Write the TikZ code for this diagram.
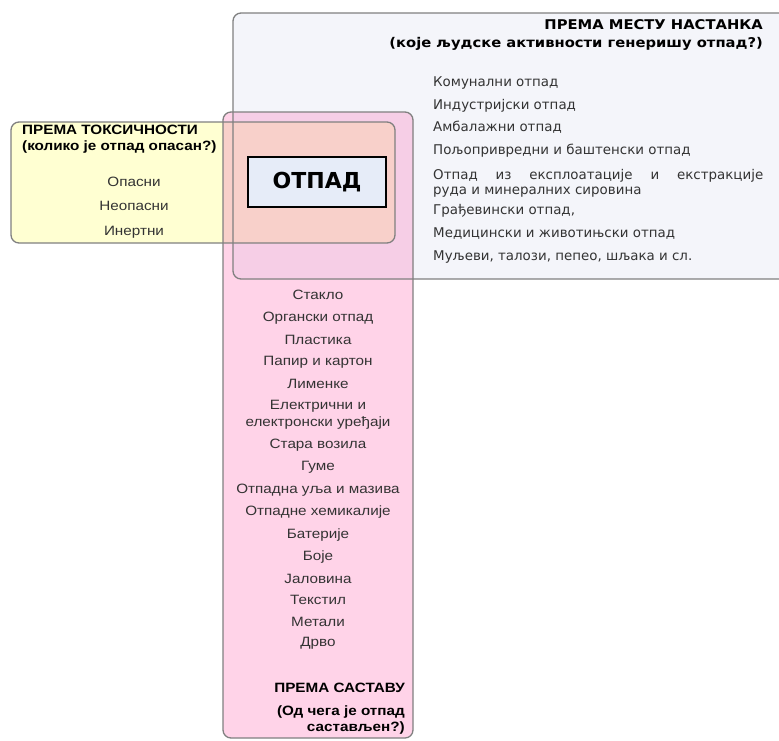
\documentclass[tikz,border=0pt]{standalone}
\usepackage{fontspec}
\setmainfont{Liberation Sans}
\newfontfamily\verd{DejaVu Sans}
\newfontfamily\verdwide[FakeStretch=1.1]{DejaVu Sans}
\newfontfamily\arialwide[FakeStretch=1.13]{Liberation Sans}

\definecolor{topfill}{HTML}{F4F5FA}
\definecolor{pinkfill}{HTML}{FFD3E8}
\definecolor{pinktop}{HTML}{F6CEE6}
\definecolor{yellowfill}{HTML}{FFFFD2}
\definecolor{mixfill}{HTML}{F8D0CA}
\definecolor{otpadfill}{HTML}{E6ECF8}
\definecolor{edge}{HTML}{808080}

\tikzset{
  box/.style={rounded corners=8pt},
  boxline/.style={draw=edge, line width=1.3pt, rounded corners=8pt},
  placeitem/.style={font=\verd\fontsize{13.4}{15}\selectfont, text=black!80, anchor=mid west, inner sep=0pt},
  placehead/.style={font=\verdwide\bfseries\fontsize{13.4}{15}\selectfont, anchor=mid east, inner sep=0pt},
  compitem/.style={font=\arialwide\fontsize{13.5}{15}\selectfont, text=black!80, inner sep=0pt},
  comphead/.style={font=\arialwide\bfseries\fontsize{13.5}{15}\selectfont, anchor=mid east, inner sep=0pt},
  toxhead/.style={font=\arialwide\bfseries\fontsize{13.5}{15}\selectfont, anchor=mid west, inner sep=0pt}
}

\begin{document}
\begin{tikzpicture}[x=1pt,y=-1pt]
    \useasboundingbox (0,0) rectangle (779,740);
    \begin{scope}
        \clip (0,0) rectangle (779,740);
        % fills
        \fill[topfill,box] (233,13) rectangle (800,279);
        \fill[pinkfill,box] (223,112) rectangle (413,738);
        \begin{scope}
            \clip[box] (233,13) rectangle (800,279);
            \fill[pinktop,box] (223,112) rectangle (413,738);
        \end{scope}
        \fill[yellowfill,box] (11,122) rectangle (395,243);
        \begin{scope}
            \clip[box] (223,112) rectangle (413,738);
            \fill[mixfill,box] (11,122) rectangle (395,243);
        \end{scope}
        % borders
        \draw[boxline] (233,13) rectangle (800,279);
        \draw[boxline] (223,112) rectangle (413,738);
        \draw[boxline] (11,122) rectangle (395,243);
    \end{scope}

    \node[draw=black, line width=2.3pt, fill=otpadfill, minimum width=138, minimum height=50,
          font=\verd\bfseries\fontsize{22}{24}\selectfont] (otpad) at (317,182) {ОТПАД};

    % prema mestu nastanka
    \node[placehead] (mestohead) at (763,27) {ПРЕМА МЕСТУ НАСТАНКА};
    \node[placehead] (mestoq) at (763,45) {(које људске активности генеришу отпад?)};
    \node[placeitem] (komunalni) at (433,84) {Комунални отпад};
    \node[placeitem] (industrijski) at (433,107) {Индустријски отпад};
    \node[placeitem] (ambalazni) at (433,129) {Амбалажни отпад};
    \node[placeitem] (poljo) at (433,152) {Пољопривредни и баштенски отпад};
    \node[placeitem, align=left] (rudni) at (433,192)
        {\makebox[330pt][s]{Отпад из експлоатације и екстракције}\\руда и минералних сировина};
    \node[placeitem] (gradjevinski) at (433,212) {Грађевински отпад,};
    \node[placeitem] (medicinski) at (433,235) {Медицински и животињски отпад};
    \node[placeitem] (muljevi) at (433,258) {Муљеви, талози, пепео, шљака и сл.};

    % prema toksicnosti
    \node[toxhead] (toxhead) at (22,132) {ПРЕМА ТОКСИЧНОСТИ};
    \node[toxhead] (toxq) at (22,148) {(колико је отпад опасан?)};
    \node[compitem] (opasni) at (134,182) {Опасни};
    \node[compitem] (neopasni) at (134,206) {Неопасни};
    \node[compitem] (inertni) at (134,232) {Инертни};

    % prema sastavu
    \node[compitem] (staklo) at (318,295) {Стакло};
    \node[compitem] (organski) at (318,318) {Органски отпад};
    \node[compitem] (plastika) at (318,340) {Пластика};
    \node[compitem] (papir) at (318,362) {Папир и картон};
    \node[compitem] (limenke) at (318,384) {Лименке};
    \node[compitem] (elektricni) at (318,406) {Електрични и};
    \node[compitem] (elektronski) at (318,423) {електронски уређаји};
    \node[compitem] (vozila) at (318,445) {Стара возила};
    \node[compitem] (gume) at (318,467) {Гуме};
    \node[compitem] (ulja) at (318,490) {Отпадна уља и мазива};
    \node[compitem] (hemikalije) at (318,512) {Отпадне хемикалије};
    \node[compitem] (baterije) at (318,535) {Батерије};
    \node[compitem] (boje) at (318,557) {Боје};
    \node[compitem] (jalovina) at (318,579) {Јаловина};
    \node[compitem] (tekstil) at (318,600) {Текстил};
    \node[compitem] (metali) at (318,622) {Метали};
    \node[compitem] (drvo) at (318,643) {Дрво};
    \node[comphead] (sastavhead) at (405,690) {ПРЕМА САСТАВУ};
    \node[comphead] (sastavq) at (405,713) {(Од чега је отпад};
    \node[comphead] (sastavq2) at (405,729) {састављен?)};
\end{tikzpicture}
\end{document}
